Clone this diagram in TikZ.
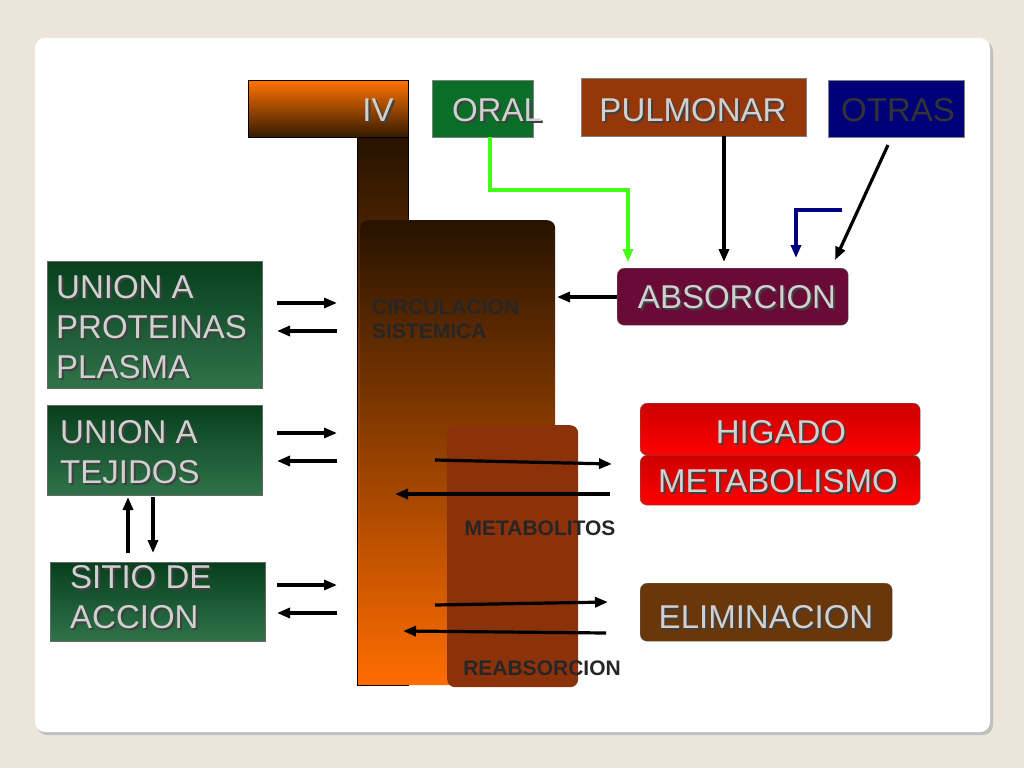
\documentclass[tikz,border=0pt]{standalone}
\usepackage{fontspec}
\setmainfont{Liberation Sans}
\usetikzlibrary{arrows.meta,calc}
\definecolor{bg}{HTML}{ECE6DA}
\definecolor{txt}{HTML}{D0D0D0}
\definecolor{dg}{HTML}{0B5A2A}
\tikzset{
  x=1pt,y=-1pt,
  big/.style={font=\fontsize{33}{40}\selectfont},
  lbl/.style={big, text=txt, align=left, anchor=north west, inner sep=0pt},
  small/.style={font=\bfseries\fontsize{21}{26}\selectfont, text=black!85, align=left, inner sep=0pt},
  arr/.style={-{Triangle[length=13pt,width=10pt]}, line width=3.2pt, black},
  gbox/.style={draw=black!60, line width=0.6pt, top color=dg!70!black, bottom color=dg!85!white},
}
\newcommand{\shtext}[2]{\node[lbl,text=black!75] at ($(#1)+(2,2)$) {#2};\node[lbl] at (#1) {#2};}
\newcommand{\ctext}[2]{\node[big,text=black!75] at ($(#1)+(2,2)$) {#2};\node[big,text=txt] at (#1) {#2};}
\begin{document}
\begin{tikzpicture}
\useasboundingbox (0,0) rectangle (1024,768);
\fill[bg] (0,0) rectangle (1024,768);
\fill[black!25,rounded corners=10pt] (37,41) rectangle (993,735);
\fill[white,rounded corners=10pt] (35,38) rectangle (990,732);
% column
\node[draw=black,line width=0.8pt,top color=black!85!orange,bottom color=orange!85!red,minimum width=51,minimum height=548,anchor=north west,inner sep=0] (col) at (357,137) {};
\node[draw=black,line width=0.8pt,top color=orange!90!red,bottom color=black!80!orange,minimum width=160,minimum height=57,anchor=north west,inner sep=0] (iv) at (248,80) {};
\ctext{378,110}{IV}
\node[rounded corners=8pt,top color=black!85!orange,bottom color=orange!85!red,minimum width=195,minimum height=465,anchor=north west,inner sep=0] (circ) at (360,220) {};
\node[rounded corners=8pt,fill={rgb,255:red,140;green,50;blue,10},minimum width=131,minimum height=262,anchor=north west,inner sep=0] (met) at (447,425) {};
\node[small,anchor=north west] (cs) at (372,300) {CIRCULACION\\[-2pt]SISTEMICA};
\node[small] (mlab) at (540,528) {METABOLITOS};
\node[small] (rlab) at (542,668) {REABSORCION};
% top boxes
\node[fill={rgb,255:red,10;green,110;blue,40},draw=black!50,minimum width=101,minimum height=57,anchor=north west,inner sep=0] (oral) at (432,80) {};
\ctext{497,110}{ORAL}
\node[fill={rgb,255:red,150;green,55;blue,10},draw=black!50,minimum width=225,minimum height=58,anchor=north west,inner sep=0] (pul) at (581,78) {};
\ctext{693,110}{PULMONAR}
\node[fill={rgb,255:red,0;green,0;blue,120},draw=black!50,minimum width=136,minimum height=57,anchor=north west,inner sep=0] (otr) at (828,80) {};
\node[big,text=black!80] at (898,110) {OTRAS};
% right boxes
\node[rounded corners=7pt,fill={rgb,255:red,105;green,10;blue,55},draw=black!60,minimum width=231,minimum height=57,anchor=north west,inner sep=0] (abs) at (617,268) {};
\ctext{737,297}{ABSORCION}
\node[rounded corners=7pt,top color=red!80!black,bottom color=red,draw=black!60,minimum width=280,minimum height=52,anchor=north west,inner sep=0] (hig) at (640,403) {};
\node[rounded corners=7pt,top color=red!80!black,bottom color=red,draw=black!60,minimum width=280,minimum height=50,anchor=north west,inner sep=0] (metb) at (640,455) {};
\ctext{781,432}{HIGADO}
\ctext{778,481}{METABOLISMO}
\node[rounded corners=7pt,fill={rgb,255:red,105;green,55;blue,10},draw=black!60,minimum width=252,minimum height=58,anchor=north west,inner sep=0] (eli) at (640,583) {};
\ctext{766,617}{ELIMINACION}
% left boxes
\node[gbox,minimum width=215,minimum height=127,anchor=north west,inner sep=0] (prot) at (47,261) {};
\shtext{56,275}{UNION A\\PROTEINAS\\PLASMA}
\node[gbox,minimum width=215,minimum height=90,anchor=north west,inner sep=0] (tej) at (47,405) {};
\shtext{60,420}{UNION A\\TEJIDOS}
\node[gbox,minimum width=215,minimum height=79,anchor=north west,inner sep=0] (sit) at (50,562) {};
\shtext{70,565}{SITIO DE\\ACCION}
% arrows
\coordinate (g1) at (490,137); \coordinate (g2) at (628,262);
\draw[-{Triangle[length=13pt,width=10pt]},line width=3.2pt,green!90!white!75!lime] (g1) -- (490,190) -- (628,190) -- (g2);
\draw[arr] (pul.south -| 724,0) -- (724,262);
\draw[-{Triangle[length=13pt,width=10pt]},line width=3.2pt,blue!50!black] (842,210) -- (796,210) -- (796,258);
\draw[arr] (888,145) -- (835,260);
\draw[arr] (abs.west |- 0,297) -- (557,297);
\foreach \y in {303,433,585}{
  \draw[arr] (277,\y) -- (337,\y);
  \draw[arr] (337,\y+28) -- (277,\y+28);
}
\draw[arr] (128,553) -- (128,497);
\draw[arr] (153,497) -- (153,553);
\draw[arr] (435,460) -- (612,464);
\draw[arr] (610,494) -- (395,494);
\draw[arr] (435,605) -- (608,602);
\draw[arr] (606,633) -- (403,631);
\end{tikzpicture}
\end{document}
